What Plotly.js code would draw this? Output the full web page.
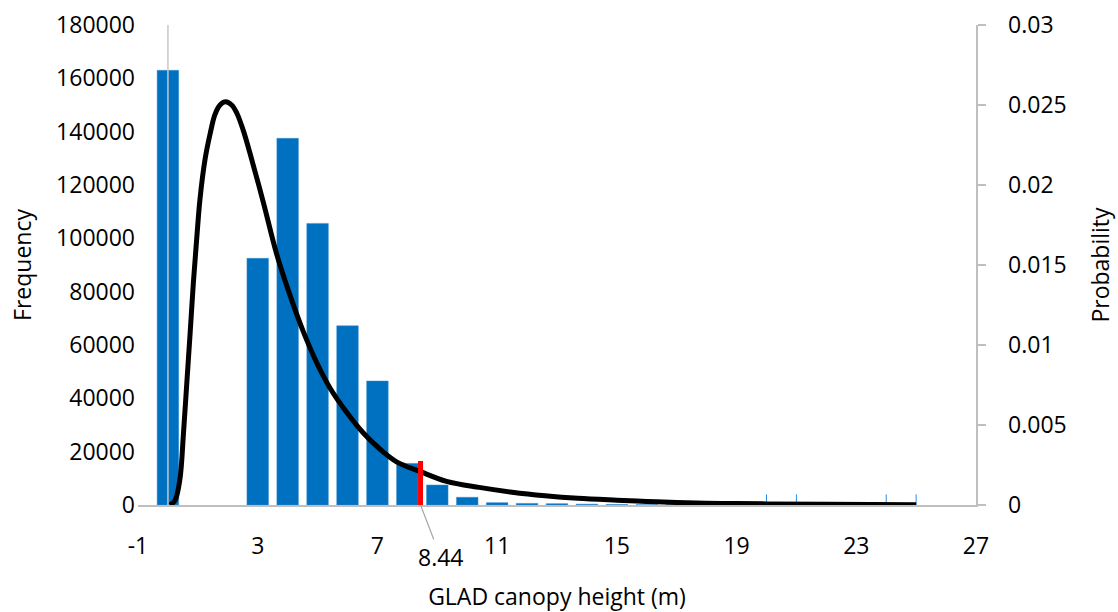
<!DOCTYPE html>
<html>
<head>
<meta charset="utf-8">
<script src="https://cdn.plot.ly/plotly-3.0.1.min.js"></script>
<style>html,body{margin:0;padding:0;background:#fff;}#chart{width:1118px;height:612px;}</style>
</head>
<body>
<div id="chart"></div>
<script>
// Histogram of GLAD canopy height
var barX = [0, 3, 4, 5, 6, 7, 8, 9, 10, 11, 12, 13, 14, 15, 16, 17, 18, 19];
var barFreq = [163000, 92500, 137500, 105600, 67200, 46500, 15600, 7500, 2900, 870, 600, 500, 300, 200, 120, 80, 50, 30];

// Fitted probability curve
var curveX = [0.07, 0.24, 0.4, 0.52, 0.63, 0.74, 0.85, 0.96, 1.07, 1.24, 1.41, 1.57, 1.74, 1.93, 2.13, 2.3, 2.52, 2.74, 3.19, 3.63, 4.08, 4.52, 4.97, 5.42, 5.97, 6.53, 7.08, 7.64, 8.42, 9.31, 10.4, 11.5, 12.6, 13.7, 15, 16, 17, 18.5, 20, 22, 25];
var curveP = [0, 0.0003, 0.0016, 0.0045, 0.0076, 0.0107, 0.0139, 0.0166, 0.0191, 0.0216, 0.0232, 0.0244, 0.025, 0.0252, 0.025, 0.0245, 0.0234, 0.022, 0.0189, 0.0157, 0.0131, 0.01085, 0.0089, 0.0073, 0.0058, 0.0045, 0.0035, 0.0027, 0.0021, 0.00148, 0.0011, 0.0008, 0.00058, 0.00042, 0.0003, 0.00022, 0.00016, 0.0001, 0.00007, 0.00004, 0.00002];

// Threshold marker (height given in frequency units)
var thresholdX = 8.44;
var thresholdTop = 16500;
var thresholdLabel = "8.44";

// Small residual counts at large heights
var tinyX = [20, 21, 24, 25];
var tinyFreq = [4000, 4000, 4000, 4000];

// Reference line at x = 0
var refX = 0;
var refTop = 180000;

// Axis ranges and tick labels
var freqMax = 180000;
var probMax = 0.03;
var xTickVals = [-1, 3, 7, 11, 15, 19, 23, 27];
var xTickText = ["-1", "3", "7", "11", "15", "19", "23", "27"];

var tinyLX = [], tinyLY = [];
for (var i = 0; i < tinyX.length; i++) {
  tinyLX.push(tinyX[i], tinyX[i], null);
  tinyLY.push(0, tinyFreq[i], null);
}
// red marker drawn on the probability axis so it sits above the curve
var thresholdTopP = thresholdTop / freqMax * probMax;

var traces = [
  {x: [refX, refX], y: [0, refTop], type: 'scatter', mode: 'lines',
   line: {color: '#c8c8c8', width: 1.5}, hoverinfo: 'skip', showlegend: false},
  {x: barX, y: barFreq, type: 'bar', width: 0.72,
   marker: {color: '#0070c0', line: {color: '#3a8fd0', width: 0.5}}, showlegend: false},
  {x: tinyLX, y: tinyLY, type: 'scatter', mode: 'lines',
   line: {color: '#2e8ee0', width: 1}, hoverinfo: 'skip', showlegend: false},
  {x: curveX, y: curveP, type: 'scatter', mode: 'lines', yaxis: 'y2',
   line: {color: '#000000', width: 5, shape: 'spline', smoothing: 1}, showlegend: false},
  {x: [thresholdX, thresholdX], y: [0, thresholdTopP], type: 'scatter', mode: 'lines', yaxis: 'y2',
   line: {color: '#ff0000', width: 5}, showlegend: false}
];

var tickFont = {family: 'Open Sans, sans-serif', size: 23, color: '#000'};

var layout = {
  width: 1118, height: 612,
  margin: {l: 138, r: 142, t: 25, b: 107, pad: 0},
  paper_bgcolor: '#fff', plot_bgcolor: '#fff',
  showlegend: false,
  bargap: 0,
  xaxis: {
    range: [-1, 27], tickmode: 'array', tickvals: xTickVals, ticktext: xTickText,
    showgrid: false, zeroline: false, showline: true, linecolor: '#bfbfbf', linewidth: 1.5,
    ticks: '', tickfont: tickFont, ticklabelstandoff: 20, automargin: false,
    title: {text: 'GLAD canopy height (m)', font: tickFont, standoff: 30}
  },
  yaxis: {
    range: [0, freqMax], dtick: 20000, tickmode: 'linear', tickformat: 'd',
    showgrid: false, zeroline: false, showline: false, ticks: '',
    tickfont: tickFont, automargin: false, ticklabelstandoff: 2,
    title: {text: 'Frequency', font: tickFont, standoff: 18}
  },
  yaxis2: {
    overlaying: 'y', side: 'right', anchor: 'x',
    range: [0, probMax], dtick: 0.005, tickmode: 'linear',
    showgrid: false, zeroline: false, showline: true, linecolor: '#bfbfbf', linewidth: 1.5,
    ticks: 'outside', ticklen: 8, tickcolor: '#bfbfbf', tickwidth: 1.5,
    tickfont: tickFont, automargin: false, ticklabelstandoff: 18,
    title: {text: 'Probability', font: tickFont, standoff: 27}
  },
  annotations: [{
    x: thresholdX, y: 0, xref: 'x', yref: 'y', text: thresholdLabel,
    showarrow: true, arrowhead: 0, arrowwidth: 1.2, arrowcolor: '#a6a6a6',
    ax: 20, ay: 52, font: tickFont
  }]
};

Plotly.newPlot('chart', traces, layout, {displayModeBar: false, staticPlot: true});
</script>
</body>
</html>
